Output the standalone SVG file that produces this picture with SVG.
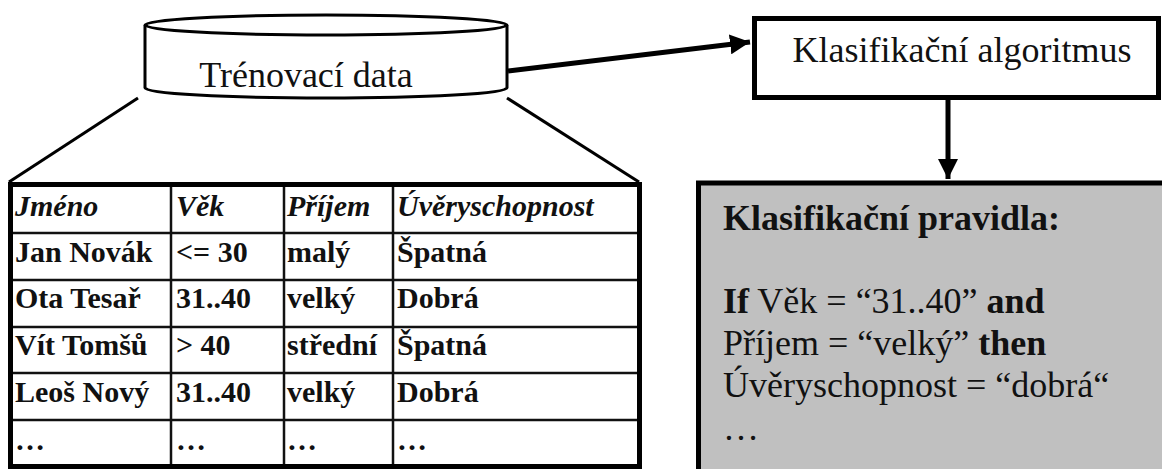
<svg xmlns="http://www.w3.org/2000/svg" width="1162" height="469" viewBox="0 0 1162 469">
  <defs>
    <style>
      text { font-family: 'Liberation Serif', 'DejaVu Serif', serif; fill: #111; }
      .lbl { font-size: 36px; }
      .cell { font-size: 30px; font-weight: bold; }
      .head { font-size: 30px; font-weight: bold; font-style: italic; }
      .b { font-weight: bold; }
      .outline { fill: none; stroke: #000; }
      .grid { stroke: #111; stroke-width: 2.5; }
    </style>
    <marker id="arrow" viewBox="0 0 10 10" refX="10" refY="5" markerWidth="4" markerHeight="4" markerUnits="strokeWidth" orient="auto">
      <path d="M0,0 L10,5 L0,10 Z" fill="#000"/>
    </marker>
  </defs>

  <rect width="1162" height="469" fill="#fff"/>

  <!-- connectors -->
  <g id="connectors">
    <line x1="508" y1="71" x2="750" y2="42" stroke="#000" stroke-width="5" marker-end="url(#arrow)"/>
    <line x1="948" y1="99" x2="948" y2="179" stroke="#000" stroke-width="5" marker-end="url(#arrow)"/>
    <!-- projection of the data store onto the table -->
    <line x1="138" y1="98" x2="9" y2="182" stroke="#000" stroke-width="3"/>
    <line x1="507" y1="98" x2="639" y2="182" stroke="#000" stroke-width="3"/>
  </g>

  <!-- training data store -->
  <g id="training-data">
    <path d="M145,25 L145,88 A181,10 0 0,0 507,88 L507,25" fill="#fff" stroke="#000" stroke-width="3"/>
    <ellipse cx="326" cy="25" rx="181" ry="10" fill="#fff" stroke="#000" stroke-width="3"/>
    <text class="lbl" x="306" y="87" text-anchor="middle">Trénovací data</text>
  </g>

  <!-- classification algorithm -->
  <g id="algorithm">
    <rect x="754.5" y="18.5" width="404" height="79" fill="#fff" stroke="#000" stroke-width="5"/>
    <text class="lbl" x="962" y="62" text-anchor="middle">Klasifikační algoritmus</text>
  </g>

  <!-- classification rules -->
  <g id="rules">
    <rect x="698.5" y="183" width="480" height="300" fill="#c0c0c0" stroke="#000" stroke-width="5"/>
    <text class="lbl b" x="723" y="230">Klasifikační pravidla:</text>
    <text class="lbl" x="723" y="313"><tspan class="b">If</tspan> Věk = “31..40” <tspan class="b">and</tspan></text>
    <text class="lbl" x="723" y="355">Příjem = “velký” <tspan class="b">then</tspan></text>
    <text class="lbl" x="723" y="397">Úvěryschopnost = “dobrá“</text>
    <text class="lbl" x="723" y="440">…</text>
  </g>

  <!-- training data table -->
  <g id="table">
    <rect x="10.5" y="184.5" width="629" height="282" fill="#fff" class="outline" stroke-width="5"/>
    <g class="grid">
      <line x1="13" y1="233" x2="637" y2="233"/>
      <line x1="13" y1="280" x2="637" y2="280"/>
      <line x1="13" y1="327" x2="637" y2="327"/>
      <line x1="13" y1="373" x2="637" y2="373"/>
      <line x1="13" y1="420" x2="637" y2="420"/>
      <line x1="171" y1="187" x2="171" y2="464"/>
      <line x1="284" y1="187" x2="284" y2="464"/>
      <line x1="393" y1="187" x2="393" y2="464"/>
    </g>
    <text class="head" x="15" y="216">Jméno</text>
    <text class="head" x="176" y="216">Věk</text>
    <text class="head" x="287" y="216">Příjem</text>
    <text class="head" x="397" y="216">Úvěryschopnost</text>

    <text class="cell" x="15" y="262">Jan Novák</text>
    <text class="cell" x="176" y="262">&lt;= 30</text>
    <text class="cell" x="287" y="262">malý</text>
    <text class="cell" x="397" y="262">Špatná</text>

    <text class="cell" x="15" y="308">Ota Tesař</text>
    <text class="cell" x="176" y="308">31..40</text>
    <text class="cell" x="287" y="308">velký</text>
    <text class="cell" x="397" y="308">Dobrá</text>

    <text class="cell" x="15" y="355">Vít Tomšů</text>
    <text class="cell" x="176" y="355">&gt; 40</text>
    <text class="cell" x="287" y="355">střední</text>
    <text class="cell" x="397" y="355">Špatná</text>

    <text class="cell" x="15" y="402">Leoš Nový</text>
    <text class="cell" x="176" y="402">31..40</text>
    <text class="cell" x="287" y="402">velký</text>
    <text class="cell" x="397" y="402">Dobrá</text>

    <text class="cell" x="15" y="450">…</text>
    <text class="cell" x="176" y="450">…</text>
    <text class="cell" x="287" y="450">…</text>
    <text class="cell" x="397" y="450">…</text>
  </g>
</svg>
